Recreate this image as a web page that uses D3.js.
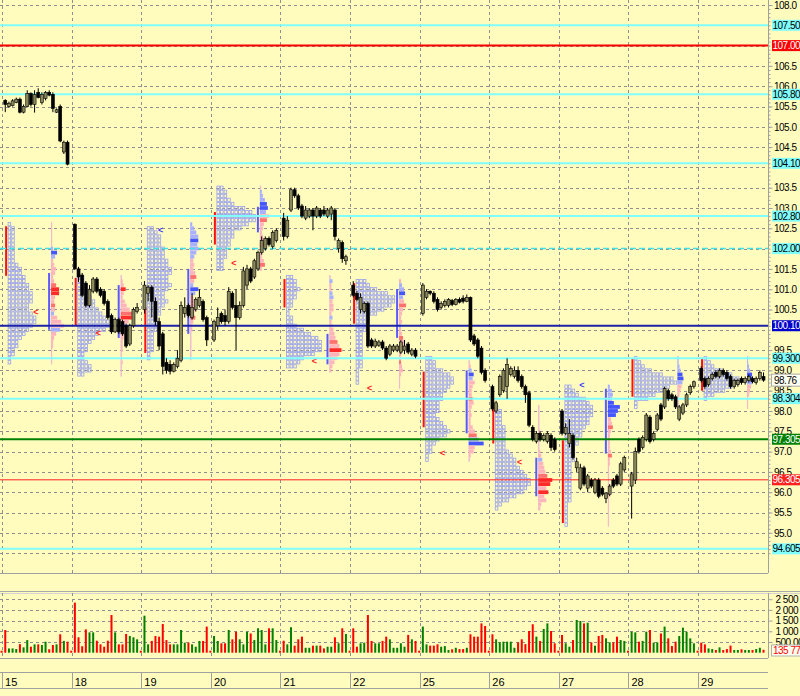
<!DOCTYPE html>
<html><head><meta charset="utf-8">
<script src="https://cdn.jsdelivr.net/npm/d3@7"></script>
<style>
html,body{margin:0;padding:0;background:#fffcbe;overflow:hidden}
svg{display:block}
text{font-family:"Liberation Sans",Arial,sans-serif}
</style></head><body>
<svg id="c" width="800" height="696"></svg>
<script>
// ---------------- DATA ----------------
const days = ["15","18","19","20","21","22","25","26","27","28","29"];

const opens = [
 [105.65,105.50,105.52,105.60,105.68,105.36,105.50,105.82,105.55,105.85,105.60,105.70,105.85,105.80,105.36,105.50,104.38,104.62],
 [102.60,101.50,101.35,101.15,100.60,100.95,101.25,101.00,100.95,100.70,100.35,99.95,100.25,100.20,100.10,99.65,100.10,100.45],
 [100.50,100.90,101.05,100.70,100.20,99.90,99.20,99.15,98.98,99.10,99.25,100.40,100.60,100.30,100.50,100.60,100.70,100.30],
 [99.75,100.10,100.40,100.35,100.20,100.90,100.60,100.30,100.60,101.10,101.50,101.30,101.50,101.90,102.00,102.25,102.05,102.20],
 [102.75,102.30,102.95,103.45,103.30,103.05,102.75,102.80,102.95,102.80,102.95,102.95,102.80,102.85,102.95,102.00,102.15,101.70],
 [101.10,100.90,100.50,100.45,100.65,99.75,99.60,99.62,99.70,99.55,99.40,99.50,99.50,99.45,99.50,99.65,99.40,99.50],
 [100.40,100.80,100.95,100.90,100.75,100.55,100.60,100.60,100.72,100.62,100.75,100.78,100.70,100.80,99.85,99.75,99.55,99.00],
 [98.60,98.00,98.40,98.50,98.60,98.90,98.85,99.00,98.85,98.60,98.45,97.60,97.25,97.45,97.30,97.25,97.40,97.30],
 [98.00,97.45,97.20,97.40,96.60,96.10,96.60,96.10,96.30,96.00,96.30,96.10,95.85,95.95,96.30,96.40,96.20,96.55],
 [96.15,96.30,97.30,97.10,97.30,97.85,97.30,97.55,98.15,98.10,98.50,98.40,98.35,97.80,97.95,98.15,98.45,98.60],
 [99.05,98.80,98.65,98.80,98.95,98.85,99.00,98.95,98.85,98.60,98.65,98.80,98.70,98.75,98.80,98.70,98.80,98.85]
];
const highs = [
 [105.68,105.62,105.68,105.72,105.72,105.55,105.90,105.85,105.90,105.95,105.85,105.88,105.90,105.85,105.45,105.55,104.66,104.66],
 [102.62,101.55,101.40,101.20,101.10,101.30,101.30,101.05,101.00,100.75,100.40,100.30,100.30,100.25,100.15,100.15,100.55,100.66],
 [101.20,101.10,101.10,100.80,100.30,99.95,99.30,99.25,99.20,99.50,100.70,100.80,100.65,100.90,100.80,101.00,100.75,100.35],
 [100.25,100.55,100.45,100.50,101.05,100.95,101.00,100.70,101.55,101.60,101.55,101.75,101.95,102.30,102.30,102.30,102.45,102.50],
 [102.88,102.80,103.50,103.50,103.35,103.10,103.05,103.00,103.00,103.05,103.00,103.05,103.00,103.05,103.00,102.25,102.20,101.85],
 [101.20,100.95,100.90,100.70,100.70,99.80,99.78,99.75,99.75,99.60,99.65,99.65,99.65,99.75,99.75,99.70,99.55,99.55],
 [101.15,101.00,100.97,100.95,100.80,100.70,100.75,100.78,100.76,100.78,100.80,100.85,100.87,100.82,99.90,99.80,99.60,99.05],
 [98.65,98.25,98.90,99.05,99.30,99.10,99.10,99.10,98.90,98.65,98.50,97.65,97.50,97.50,97.45,97.50,97.45,97.35],
 [98.05,97.70,97.80,97.45,96.85,96.70,96.65,96.45,96.35,96.35,96.35,96.15,96.00,96.20,96.35,96.45,96.75,96.90],
 [96.50,97.10,97.35,97.40,97.95,97.90,97.50,97.95,98.20,98.60,98.55,98.45,98.40,98.15,98.20,98.45,98.65,98.75],
 [99.10,98.85,98.85,98.95,99.00,99.05,99.05,99.00,98.90,98.80,98.80,98.85,98.85,98.90,98.85,98.85,99.00,98.95]
];
const lows = [
 [105.36,105.47,105.50,105.58,105.33,105.33,105.48,105.50,105.35,105.70,105.55,105.65,105.75,105.36,105.34,104.62,104.33,104.05],
 [101.48,101.18,100.80,100.55,100.55,100.90,100.90,100.80,100.60,100.25,99.90,99.92,99.90,99.85,99.55,99.60,100.05,100.40],
 [100.40,100.70,100.30,100.10,99.50,98.90,98.92,98.90,98.95,99.05,99.20,100.30,100.30,100.25,100.45,100.55,100.20,99.60],
 [99.70,100.00,100.15,100.10,100.15,100.50,99.50,100.25,100.55,101.00,101.15,101.25,101.45,101.85,101.95,102.05,102.00,102.15],
 [102.20,102.25,102.90,103.25,102.95,102.75,102.70,102.75,102.45,102.75,102.75,102.80,102.75,102.70,102.20,101.90,101.65,101.60],
 [100.80,100.70,100.40,100.40,99.55,99.55,99.55,99.58,99.50,99.25,99.35,99.45,99.45,99.40,99.40,99.40,99.35,99.30],
 [100.35,100.75,100.85,100.65,100.45,100.50,100.55,100.55,100.58,100.60,100.65,100.65,100.68,99.70,99.60,99.30,98.90,98.70],
 [98.00,97.95,98.35,98.45,98.30,98.85,98.80,98.70,98.55,98.20,97.60,97.25,97.20,97.25,97.25,97.20,97.02,97.00],
 [97.40,97.40,97.10,96.80,96.50,96.05,96.15,96.00,96.10,95.95,95.85,95.90,95.73,95.90,96.10,96.15,96.15,96.50],
 [95.35,96.20,96.95,97.05,97.25,97.20,97.25,97.50,97.75,98.05,98.25,98.25,98.05,97.75,97.90,98.10,98.40,98.55],
 [98.70,98.55,98.60,98.75,98.80,98.80,98.85,98.75,98.55,98.55,98.60,98.65,98.65,98.70,98.68,98.65,98.75,98.72]
];
const closes = [
 [105.55,105.58,105.64,105.68,105.36,105.50,105.82,105.55,105.80,105.72,105.80,105.85,105.78,105.45,105.42,104.65,104.62,104.08],
 [101.50,101.30,100.85,100.60,101.00,101.25,100.95,100.85,100.65,100.30,99.95,100.25,99.95,99.90,99.60,100.10,100.50,100.55],
 [101.10,101.05,100.70,100.20,99.60,99.10,99.00,98.98,99.15,99.30,100.60,100.55,100.35,100.55,100.75,100.80,100.25,99.75],
 [100.20,100.30,100.20,100.20,100.95,100.55,100.30,100.60,101.45,101.50,101.20,101.70,101.90,102.20,102.25,102.10,102.40,102.45],
 [102.30,102.70,103.45,103.30,103.00,102.80,102.95,102.95,102.80,103.00,102.80,102.85,102.95,103.00,102.30,102.20,101.75,101.80],
 [100.85,100.75,100.80,100.65,99.60,99.60,99.72,99.70,99.55,99.30,99.60,99.60,99.60,99.70,99.60,99.45,99.50,99.35],
 [101.10,100.95,100.90,100.70,100.50,100.65,100.70,100.75,100.62,100.75,100.68,100.70,100.80,99.75,99.65,99.35,98.95,98.75],
 [98.05,98.20,98.85,99.00,99.15,99.05,99.00,98.75,98.60,98.40,97.65,97.30,97.45,97.30,97.40,97.45,97.10,97.05],
 [97.45,97.60,97.45,96.85,96.75,96.60,96.20,96.40,96.15,96.30,95.90,95.95,95.98,96.15,96.15,96.20,96.70,96.85],
 [96.45,97.00,97.00,97.35,97.90,97.25,97.45,97.90,97.80,98.55,98.30,98.30,98.10,98.10,98.15,98.40,98.60,98.72],
 [98.75,98.60,98.80,98.90,98.85,99.00,98.90,98.80,98.60,98.75,98.75,98.70,98.80,98.85,98.72,98.80,98.95,98.76]
];
// volume in thousands, first value of each day = opening (near-zero) bar
const volumes = [
 [8,1060,200,200,170,400,250,590,280,390,390,360,515,160,360,390,860,550,515],
 [8,2340,720,300,1090,950,950,560,390,280,560,1760,950,390,390,875,780,720,625],
 [8,1730,390,550,780,750,1340,590,390,390,390,1060,470,470,390,280,550,550,1220],
 [8,780,550,440,440,1060,625,980,625,390,980,900,590,1140,1060,390,1140,1140,590],
 [8,560,390,1190,330,625,750,230,230,330,330,330,200,280,280,720,440,1140,875],
 [8,1140,280,440,470,1760,550,440,440,550,750,625,230,230,440,280,830,625,550],
 [8,1220,390,330,330,390,280,310,125,160,230,170,170,230,860,750,750,1370,1250],
 [8,860,625,485,515,515,515,230,485,625,400,1015,1330,750,550,1110,1370,1015,440],
 [8,830,440,280,590,1530,1480,1370,1400,485,330,780,830,670,485,485,750,590,550],
 [8,980,950,515,550,980,1060,470,485,900,1220,670,310,515,780,1170,980,670,440],
 [8,470,390,200,170,125,250,125,170,330,125,125,160,125,125,125,170,230,136]
];

// price axis
const priceTicks = d3.range(94.5, 108.01, 0.5);
const hiddenTicks = [107.5, 107.0, 104.0, 102.0, 100.0, 94.5];
const volTicks = [500, 1000, 1500, 2000, 2500];
const lastPrice = 98.76;
const lastVolumeText = "135 770";

// horizontal levels
const levelValues = [107.5, 107.0, 105.8, 104.1, 102.8, 102.0, 100.1, 99.3, 98.304, 97.305, 96.305, 94.605];
const levelTexts  = ["107.50","107.00","105.80","104.10","102.80","102.00","100.10","99.300","98.304","97.305","96.305","94.605"];
const levelKinds  = ["zone","stop","zone","zone","zone","pivot","control","zone","zone","trend","target","zone"];

// TPO (market profile) per day: top price and letters count per 0.1 row
const tpoTop = [102.6, 101.3, 102.5, 103.5, 101.3, 101.2, 99.3, 98.1, 98.6, 99.3, 99.3];
const tpoCounts = [
 [1,2,2,2,2,2,2,2,2,2,3,4,4,5,5,6,6,7,7,7,6,6,7,8,8,7,6,5,4,3,3,2,2,1,1],
 [2,2,3,3,3,4,5,5,6,7,8,9,9,8,6,5,4,3,3,2,2,3,4,4,2],
 [2,3,4,4,4,5,5,5,6,6,7,7,6,6,7,6,5,5,6,5,4,4,3,3,3,3,2,2,2,2,2,1,1],
 [2,3,3,4,5,8,10,11,11,9,7,5,5,4,4,3,3,3,2,2,2],
 [2,3,3,4,3,3,2,2,1,1,2,2,3,5,7,9,10,10,10,8,5,4,3],
 [3,4,6,9,11,11,10,8,6,4,3,3,3,2,2,2,2,2,2,2,2,2,1,1,1,1],
 [2,3,3,5,7,8,8,7,6,5,5,4,4,4,3,4,5,6,7,6,4,3,2,2,1,1],
 [1,2,2,2,2,3,3,3,3,3,3,4,5,6,6,7,8,9,10,10,9,8,6,4,2,1],
 [2,3,4,6,7,8,8,8,7,7,6,5,5,4,4,3,3,3,3,2,2,2,2,2,2,2,2,2,2,1,1,1,1,1,1],
 [1,2,3,5,8,11,12,10,8,6,4,1,1],
 [1,2,3,5,8,10,10,8,6,3,1]
];
// initial balance (red) range
const ibRange = [[102.55,101.33],[101.28,100.1],[100.56,99.43],[102.9,102.1],[101.25,100.55],[101.15,100.15],[98.97,97.6],[98.1,97.2],[97.28,95.24],[99.3,98.35],[99.3,98.5]];
// "<" markers: column, price, side
const markCol   = [7, 5, 3, 4, 7, 3, 4, 6, 4, null, null];
const markPrice = [100.45, 99.92, 102.45, 101.65, 99.23, 98.57, 96.97, 96.74, 98.65, null, null];
const markSide  = ["sell","sell","buy","sell","sell","sell","sell","sell","buy",null,null];

// volume profile per day
const vpTop = [102.6, 101.3, 102.6, 103.5, 101.3, 101.2, 99.2, 98.1, 98.6, 99.3, 99.3];
const vpWidths = [
 [1,1,1,1,1,1,2,6,4,2,3,5,4,2,3,5,8,8,4,3,4,4,3,6,10,13,9,5,3,2,2,1,1,1,1],
 [1,2,3,5,3,2,4,6,9,12,11,8,5,6,4,3,2,2,2,1,1,2,1,1,1],
 [2,4,6,8,8,7,8,6,4,3,4,3,5,6,4,3,8,5,3,4,5,6,4,5,3,2,2,1,1,1,1,1,1,1],
 [1,2,3,5,7,8,6,9,7,4,3,2,3,4,5,3,2,2,4,5,2],
 [1,3,2,2,3,4,3,4,4,2,3,2,3,4,5,6,8,10,12,10,8,5,3,2],
 [2,3,5,6,4,5,7,4,3,2,3,2,2,3,4,5,6,3,2,2,2,3,4,2,1,1,1],
 [1,2,3,5,4,6,4,3,3,4,5,3,2,3,2,2,4,6,8,10,15,6,5,2,1],
 [1,1,1,1,1,1,2,1,1,1,1,2,3,4,5,6,7,9,14,12,8,10,6,8,3,2],
 [2,4,5,4,6,12,10,8,3,4,5,3,2,2,2,2,3,4,2,2,1,1,1,1,1,1,1,1,1,1,1,1,1,1,1],
 [1,1,2,3,5,6,5,4,3,2,1,1,1],
 [1,1,2,3,5,6,5,4,3,2,1,1,1]
];
const vpTones = [
 "ppppppbBbpppppprRRpprpbpppbpppppppp",
 "pppRppppprRpbpppppppppppp",
 "bbbbBbbbbpppprpbBbpppppr" + "pppppppppp",
 "pbbbBBbprpppppr" + "pppprp",
 "pbppbbppppbppppprpRppppp",
 "pbbBbprppppbpprppppprpppp" + "pp",
 "ppbBbpppprpppppppprbBpppp",
 "pppppppppppp" + "pbppprRRpRpppp",
 "bbbbBBBBpprppppppr" + "pp" + "ppppppppppppppp",
 "bbbbBBbpppppp",
 "bbbbBBbpppppp"
];
// value area (blue) range of volume profile
const vaRange = [[101.4,100.0],[101.1,99.8],[101.5,99.9],[103.03,102.4],[99.9,99.15],[101.0,99.8],[99.0,97.45],[96.85,95.9],[98.55,96.95],null,null];

// ---------------- STYLE / LAYOUT ----------------
const BG = "#fffcbe";
const GRID = "#8f8f8f";
const AXIS = "#a0a0a0";
const LBL = {size:10, spacing:-0.5};
const MAIN = {top:0, bottom:573, right:768};
const VOL  = {top:593, bottom:658};
const levelStyle = {
  zone:   {stroke:"#80ffff", w:2,   dash:null,  bg:"#80ffff", fg:"#000"},
  stop:   {stroke:"#ff0000", w:2,   dash:null,  bg:"#ff0000", fg:"#fff"},
  pivot:  {stroke:"#40e4e8", w:1.5, dash:"6,3", bg:"#80ffff", fg:"#000"},
  control:{stroke:"#1c22a8", w:2,   dash:null,  bg:"#0000cc", fg:"#fff"},
  trend:  {stroke:"#008000", w:2,   dash:null,  bg:"#008000", fg:"#fff"},
  target: {stroke:"#ff2020", w:1,   dash:null,  bg:"#ff2020", fg:"#fff"}
};
const toneColor = {p:"#ffb4bc", r:"#ff7070", R:"#ff2a2a", b:"#a8b0ff", B:"#4656ff"};

const svg = d3.select("#c");
svg.append("rect").attr("width",800).attr("height",696).attr("fill",BG);

const xS = d3.scaleLinear().domain([0,209]).range([2.4, 2.4 + 209*3.663]);
const yP = d3.scaleLinear().domain([94,108]).range([573.4,5]);
const yV = d3.scaleLinear().domain([0,2500]).range([652.7,599.2]);
const bx = i => xS(i) - 0.8;
const dayX = d => xS(19*d) - 0.3;

const defs = svg.append("defs");
defs.append("clipPath").attr("id","mainClip").append("rect").attr("x",0).attr("y",0).attr("width",MAIN.right).attr("height",MAIN.bottom);
defs.append("clipPath").attr("id","volClip").append("rect").attr("x",0).attr("y",VOL.top).attr("width",MAIN.right).attr("height",VOL.bottom-VOL.top);

// ---------- main panel grid ----------
const main = svg.append("g").attr("clip-path","url(#mainClip)");
main.selectAll("line.hg").data(priceTicks).join("line")
  .attr("x1",0).attr("x2",MAIN.right).attr("y1",d=>Math.round(yP(d))+0.5).attr("y2",d=>Math.round(yP(d))+0.5)
  .attr("stroke",GRID).attr("stroke-dasharray","3,3");
main.selectAll("line.vg").data(d3.range(0,11)).join("line")
  .attr("x1",d=>Math.round(dayX(d))+0.5).attr("x2",d=>Math.round(dayX(d))+0.5).attr("y1",0).attr("y2",MAIN.bottom)
  .attr("stroke",GRID).attr("stroke-dasharray","3,3");

// ---------- profiles ----------
const prof = main.append("g");
days.forEach((dname,d) => {
  const B = dayX(d);
  const vx = B + 49;
  const vw = vpWidths[d], vt = vpTones[d];
  const vBottom = vpTop[d] - (vw.length-1)*0.1;
  prof.append("line").attr("x1",vx+0.5).attr("x2",vx+0.5)
    .attr("y1",yP(vpTop[d])-2).attr("y2",yP(vBottom)+2).attr("stroke","#c4c8ff").attr("stroke-width",1);
  prof.selectAll(null).data(vw.map((w,r)=>({w,r,t:vt[r]||"p"}))).join("rect")
    .attr("x",vx).attr("y",o=>yP(vpTop[d]-o.r*0.1)-1.9).attr("width",o=>o.w).attr("height",3.8)
    .attr("fill",o=>toneColor[o.t]);
  if (vaRange[d]) {
    prof.append("line").attr("x1",vx-2).attr("x2",vx-2)
      .attr("y1",yP(vaRange[d][0])).attr("y2",yP(vaRange[d][1])).attr("stroke","#5a5aff").attr("stroke-width",2);
  }
  const tx = B + 6;
  const cells = [];
  tpoCounts[d].forEach((n,r)=>{ for(let c=0;c<n;c++) cells.push({r,c}); });
  prof.selectAll(null).data(cells).join("rect")
    .attr("x",o=>tx + o.c*3.6).attr("y",o=>yP(tpoTop[d]-o.r*0.1)-1.6)
    .attr("width",2.6).attr("height",3.2).attr("fill","none")
    .attr("stroke","#98a0ee").attr("stroke-width",0.8);
  prof.append("line").attr("x1",B+4).attr("x2",B+4)
    .attr("y1",yP(ibRange[d][0])).attr("y2",yP(ibRange[d][1])).attr("stroke","#ff1010").attr("stroke-width",2);
  if (markCol[d] !== null) {
    prof.append("text").attr("x",tx + markCol[d]*3.6).attr("y",yP(markPrice[d])+3)
      .attr("font-size",9).attr("font-weight","bold")
      .attr("fill",markSide[d]==="buy" ? "#3a3aff" : "#ff2020").text("<");
  }
});

// ---------- level lines ----------
main.selectAll("line.lvl").data(levelValues).join("line")
  .attr("x1",0).attr("x2",MAIN.right).attr("y1",v=>yP(v)).attr("y2",v=>yP(v))
  .attr("stroke",(v,i)=>levelStyle[levelKinds[i]].stroke)
  .attr("stroke-width",(v,i)=>levelStyle[levelKinds[i]].w)
  .attr("stroke-dasharray",(v,i)=>levelStyle[levelKinds[i]].dash);

// ---------- candles ----------
const candles = [];
days.forEach((dn,d)=>{ for(let k=0;k<18;k++) candles.push({i:19*d+k+1,o:opens[d][k],h:highs[d][k],l:lows[d][k],c:closes[d][k]}); });
const cg = main.append("g");
cg.selectAll("line").data(candles).join("line")
  .attr("x1",c=>bx(c.i)).attr("x2",c=>bx(c.i)).attr("y1",c=>yP(c.h)).attr("y2",c=>yP(c.l))
  .attr("stroke","#000").attr("stroke-width",1);
cg.selectAll("rect").data(candles).join("rect")
  .attr("x",c=>bx(c.i)-1.5).attr("width",3)
  .attr("y",c=>yP(Math.max(c.o,c.c)))
  .attr("height",c=>Math.max(1,Math.abs(yP(c.o)-yP(c.c))))
  .attr("fill",c=>c.c>=c.o ? "#8b895c" : "#000").attr("stroke","#000").attr("stroke-width",0.6);

// ---------- main borders & price axis ----------
svg.append("line").attr("x1",0).attr("x2",MAIN.right).attr("y1",MAIN.bottom+0.5).attr("y2",MAIN.bottom+0.5).attr("stroke",AXIS);
const minor = d3.range(94.5, 108.01, 0.1);
svg.append("g").attr("transform",`translate(${MAIN.right+0.5},0)`)
  .call(d3.axisRight(yP).tickValues(minor).tickSize(2).tickFormat(""))
  .call(g=>{g.select(".domain").attr("stroke",AXIS).attr("d",`M0,0V${MAIN.bottom}`); g.selectAll("line").attr("stroke",AXIS);});
svg.append("g").attr("transform",`translate(${MAIN.right+0.5},0)`)
  .call(d3.axisRight(yP).tickValues(priceTicks.filter(v=>!hiddenTicks.some(h=>Math.abs(h-v)<1e-6)))
        .tickSize(4).tickPadding(1.5).tickFormat(d3.format(".1f")))
  .call(g=>{g.select(".domain").remove(); g.selectAll("line").attr("stroke",AXIS);
            g.selectAll("text").attr("font-size",LBL.size).attr("letter-spacing",LBL.spacing)
             .attr("fill","#000").attr("font-family","Liberation Sans, Arial");});

// level labels
const lab = svg.append("g");
levelValues.forEach((v,i)=>{
  const s = levelStyle[levelKinds[i]];
  lab.append("rect").attr("x",772).attr("y",yP(v)-5.5).attr("width",30).attr("height",11).attr("fill",s.bg);
  lab.append("text").attr("x",772.5).attr("y",yP(v)+3.6).attr("font-size",LBL.size)
    .attr("letter-spacing",LBL.spacing).attr("fill",s.fg).text(levelTexts[i]);
});
lab.append("rect").attr("x",771.5).attr("y",yP(lastPrice)-6).attr("width",30).attr("height",12)
  .attr("fill","#fffff2").attr("stroke","#a8a8a8");
lab.append("text").attr("x",774).attr("y",yP(lastPrice)+3.6).attr("font-size",LBL.size)
  .attr("letter-spacing",LBL.spacing).attr("fill","#000").text(d3.format(".2f")(lastPrice));

// ---------- volume panel ----------
svg.append("line").attr("x1",0).attr("x2",800).attr("y1",591.5).attr("y2",591.5).attr("stroke","#a8a8a8");
svg.append("line").attr("x1",0).attr("x2",800).attr("y1",593.5).attr("y2",593.5).attr("stroke","#d4d4d4");
const vol = svg.append("g").attr("clip-path","url(#volClip)");
vol.selectAll("line.hg").data(volTicks).join("line")
  .attr("x1",0).attr("x2",MAIN.right).attr("y1",v=>Math.round(yV(v))+0.5).attr("y2",v=>Math.round(yV(v))+0.5)
  .attr("stroke",GRID).attr("stroke-dasharray","3,3");
vol.selectAll("line.vg").data(d3.range(0,11)).join("line")
  .attr("x1",d=>Math.round(dayX(d))+0.5).attr("x2",d=>Math.round(dayX(d))+0.5).attr("y1",VOL.top).attr("y2",VOL.bottom)
  .attr("stroke",GRID).attr("stroke-dasharray","3,3");
const vbars = [];
volumes.forEach((row,d)=>row.forEach((v,k)=>{
  const up = k>0 && closes[d][k-1] >= opens[d][k-1];
  vbars.push({i:19*d+k, v, up});
}));
vol.selectAll("rect.vb").data(vbars).join("rect")
  .attr("x",b=>bx(b.i)-1).attr("width",2)
  .attr("y",b=>Math.min(yV(b.v), 650.7)).attr("height",b=>Math.max(2, 652.7-yV(b.v)))
  .attr("fill",b=>b.up ? "#008000" : "#ff0000");
svg.append("line").attr("x1",0).attr("x2",MAIN.right).attr("y1",VOL.bottom+0.5).attr("y2",VOL.bottom+0.5).attr("stroke",AXIS);
svg.append("g").attr("transform",`translate(${MAIN.right+0.5},0)`)
  .call(d3.axisRight(yV).tickValues(volTicks).tickSize(4).tickPadding(3)
        .tickFormat(v=>d3.format(",")(v*1000).replace(/,/g," ")))
  .call(g=>{g.select(".domain").attr("stroke",AXIS).attr("d",`M0,${VOL.top}V${VOL.bottom}`); g.selectAll("line").attr("stroke",AXIS);
            g.selectAll("text").attr("font-size",LBL.size).attr("letter-spacing",LBL.spacing)
             .attr("fill","#000").attr("font-family","Liberation Sans, Arial");});
svg.append("rect").attr("x",771.5).attr("y",645).attr("width",30).attr("height",11).attr("fill","#fffff2").attr("stroke","#b0b0b0");
svg.append("text").attr("x",773).attr("y",654).attr("font-size",LBL.size).attr("letter-spacing",LBL.spacing)
  .attr("fill","#ff0000").text(lastVolumeText);

// ---------- date axis ----------
svg.append("line").attr("x1",0).attr("x2",MAIN.right).attr("y1",672.5).attr("y2",672.5).attr("stroke",AXIS);
svg.append("line").attr("x1",0).attr("x2",MAIN.right).attr("y1",688.5).attr("y2",688.5).attr("stroke",AXIS);
svg.selectAll("line.dsep").data(d3.range(0,11)).join("line")
  .attr("x1",d=>Math.round(dayX(d))+0.5).attr("x2",d=>Math.round(dayX(d))+0.5).attr("y1",672).attr("y2",689)
  .attr("stroke",AXIS);
svg.selectAll("text.day").data(days).join("text")
  .attr("x",(t,d)=>dayX(d)+3).attr("y",686).attr("font-size",11).attr("fill","#000").text(t=>t);
</script>
</body></html>
